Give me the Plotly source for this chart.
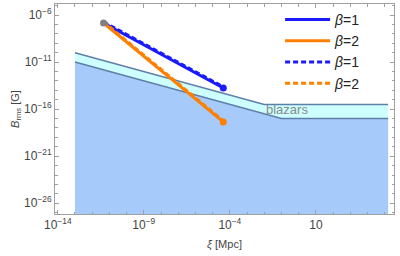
import plotly.graph_objects as go

# ---- data (log10 values) ----
xi_upper = [1e-13, 1e-2, 10**5.2]
B_upper = [1e-10, 10**-15.5, 10**-15.5]
xi_lower = [1e-13, 1e-1, 10**5.2]
B_lower = [1e-11, 1e-17, 1e-17]

xi_curve = [10**-11.34, 10**-4.38]
B_beta1 = [10**-6.85, 10**-13.75]
B_beta2 = [10**-6.85, 10**-17.36]
B_beta1_dash = [10**-6.73, 10**-13.63]
B_beta2_dash = [10**-6.73, 10**-17.24]

x_range = [-14.16, 5.54]
y_range = [-27.14, -4.83]
B_floor = 10**y_range[0]

x_major = [-14, -9, -4, 1]
x_labels = ["10<sup>−14</sup>", "10<sup>−9</sup>", "10<sup>−4</sup>", "10"]
y_major = [-6, -11, -16, -21, -26]
y_labels = ["10<sup>−6</sup>", "10<sup>−11</sup>", "10<sup>−16</sup>", "10<sup>−21</sup>", "10<sup>−26</sup>"]

BLUE = "#1a1aff"
ORANGE = "#ff8000"
EDGE = "#5f7fa8"
FILL_BLUE = "#a6cbfa"
FILL_CYAN = "#ccfffe"

fig = go.Figure()

fig.add_trace(go.Scatter(
    x=[xi_lower[0]] + xi_lower + [xi_lower[-1]],
    y=[B_floor] + B_lower + [B_floor],
    fill="toself", fillcolor=FILL_BLUE, mode="none", showlegend=False, hoverinfo="skip"))
fig.add_trace(go.Scatter(
    x=xi_upper + xi_lower[::-1],
    y=B_upper + B_lower[::-1],
    fill="toself", fillcolor=FILL_CYAN, mode="none", showlegend=False, hoverinfo="skip"))
fig.add_trace(go.Scatter(x=xi_upper, y=B_upper, mode="lines",
                         line=dict(color=EDGE, width=1.6), showlegend=False, hoverinfo="skip"))
fig.add_trace(go.Scatter(x=xi_lower, y=B_lower, mode="lines",
                         line=dict(color=EDGE, width=1.6), showlegend=False, hoverinfo="skip"))

fig.add_trace(go.Scatter(x=xi_curve, y=B_beta1, mode="lines", name="<i>β</i>=1",
                         legendgroup="a", line=dict(color=BLUE, width=3)))
fig.add_trace(go.Scatter(x=xi_curve, y=B_beta2, mode="lines", name="<i>β</i>=2",
                         legendgroup="b", line=dict(color=ORANGE, width=3)))
fig.add_trace(go.Scatter(x=xi_curve, y=B_beta1_dash, mode="lines", name="<i>β</i>=1",
                         legendgroup="c", line=dict(color=BLUE, width=3, dash="5px,3px")))
fig.add_trace(go.Scatter(x=xi_curve, y=B_beta2_dash, mode="lines", name="<i>β</i>=2",
                         legendgroup="d", line=dict(color=ORANGE, width=3, dash="5px,3px")))

fig.add_trace(go.Scatter(x=[xi_curve[1]], y=[B_beta1[1]], mode="markers",
                         marker=dict(color=BLUE, size=7), showlegend=False, hoverinfo="skip"))
fig.add_trace(go.Scatter(x=[xi_curve[1]], y=[B_beta2[1]], mode="markers",
                         marker=dict(color=ORANGE, size=7), showlegend=False, hoverinfo="skip"))
fig.add_trace(go.Scatter(x=[xi_curve[0]], y=[B_beta1[0]], mode="markers",
                         marker=dict(color="#808080", size=7), showlegend=False, hoverinfo="skip"))

fig.add_annotation(x=-0.67, y=-16.08, xref="x", yref="y", text="blazars", showarrow=False,
                   font=dict(color="#8a8a8a", size=13, family="Liberation Sans"))

axis_common = dict(showgrid=False, zeroline=False, showline=True, linecolor="#a0a0a0",
                   linewidth=1, mirror="allticks", ticks="inside", ticklen=4,
                   tickcolor="#a0a0a0", tickfont=dict(size=12, color="#444444"),
                   automargin=False)

fig.update_xaxes(type="log", range=x_range, tickmode="array",
                 tickvals=[10**v for v in x_major], ticktext=x_labels,
                 minor=dict(tickmode="array", tickvals=[10**v for v in range(-14, 6)],
                            ticks="inside", ticklen=2.5, tickcolor="#a0a0a0"),
                 title=dict(text="<i>ξ</i> [Mpc]", font=dict(size=11, color="#444444"), standoff=8),
                 **axis_common)
fig.update_yaxes(type="log", range=y_range, tickmode="array",
                 tickvals=[10**v for v in y_major], ticktext=y_labels,
                 minor=dict(tickmode="array", tickvals=[10**v for v in range(-27, -4)],
                            ticks="inside", ticklen=2.5, tickcolor="#a0a0a0"),
                 title=dict(text="<i>B</i><sub>rms</sub> [G]", font=dict(size=11, color="#444444"), standoff=2),
                 **axis_common)

fig.update_layout(
    width=400, height=256,
    margin=dict(l=55, r=6, t=4, b=42),
    plot_bgcolor="white", paper_bgcolor="white",
    font=dict(family="Liberation Sans", color="#444444"),
    legend=dict(x=0.664, y=1.0, xanchor="left", yanchor="top", bgcolor="rgba(0,0,0,0)",
                font=dict(size=14, color="#222222"), tracegroupgap=0, itemwidth=45),
)

fig.write_html("out.html", config={"displayModeBar": False},
               post_script="document.body.style.margin='0';document.body.style.overflow='hidden';")
